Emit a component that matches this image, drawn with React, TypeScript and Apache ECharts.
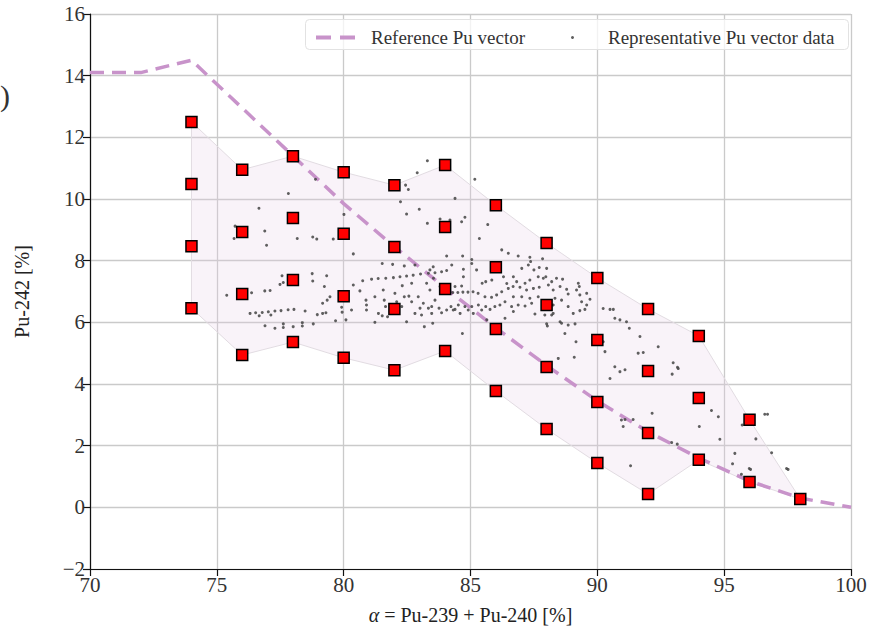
import React, { useEffect, useRef } from "react";
import * as echarts from "echarts";

// Reference Pu vector (dashed line)
const refX = [70, 72, 74, 76, 78, 80, 82, 84, 86, 88, 90, 92, 94, 96, 98, 100];
const refY = [14.1, 14.1, 14.5, 12.95, 11.4, 9.85, 8.45, 7.12, 5.82, 4.6, 3.45, 2.45, 1.6, 0.85, 0.3, 0.0];

// Red square grid points
const squareX = [
  74, 74, 74, 74,
  76, 76, 76, 76,
  78, 78, 78, 78,
  80, 80, 80, 80,
  82, 82, 82, 82,
  84, 84, 84, 84,
  86, 86, 86, 86,
  88, 88, 88, 88,
  90, 90, 90, 90,
  92, 92, 92, 92,
  94, 94, 94,
  96, 96,
  98,
];
const squareY = [
  12.5, 10.49, 8.47, 6.46,
  10.95, 8.93, 6.92, 4.94,
  11.39, 9.38, 7.37, 5.36,
  10.87, 8.87, 6.85, 4.85,
  10.45, 8.44, 6.43, 4.45,
  11.1, 9.09, 7.08, 5.07,
  9.8, 7.79, 5.78, 3.77,
  8.57, 6.56, 4.55, 2.54,
  7.44, 5.43, 3.42, 1.44,
  6.43, 4.42, 2.41, 0.43,
  5.56, 3.55, 1.54,
  2.84, 0.82,
  0.27,
];

// Shaded envelope (outer points)
const hullX = [74, 76, 78, 80, 82, 84, 86, 88, 90, 92, 94, 96, 98, 96, 94, 92, 90, 88, 86, 84, 82, 80, 78, 76, 74];
const hullY = [12.5, 10.95, 11.39, 10.87, 10.45, 11.1, 9.8, 8.57, 7.44, 6.43, 5.56, 2.84, 0.27, 0.82, 1.54, 0.43, 1.44, 2.54, 3.77, 5.07, 4.45, 4.85, 5.36, 4.94, 6.46];

// Representative Pu vector data (small dots)
const repPoints: number[][] = [
  [78.89, 10.64], [77.82, 10.18], [76.66, 9.7], [75.72, 9.12], [75.68, 8.72], [76.89, 8.96], [76.96, 8.5], [78.17, 8.72],
  [78.78, 8.77], [78.94, 8.7], [79.59, 8.7], [80.01, 9.5], [80.38, 8.22], [77.57, 7.51], [78.76, 7.58], [79.33, 7.51],
  [77.49, 7.23], [77.62, 7.29], [78.78, 7.34], [79.24, 7.16], [75.39, 6.88], [76.37, 6.96], [76.89, 7.02], [77.1, 7.03],
  [80.38, 7.21], [80.75, 7.35], [80.64, 7.02], [79.46, 6.83], [79.35, 6.72], [79.17, 6.62], [80.88, 6.72], [80.9, 6.56],
  [76.31, 6.29], [76.53, 6.31], [76.79, 6.32], [77.03, 6.34], [77.29, 6.37], [77.53, 6.38], [77.81, 6.41], [78.04, 6.42],
  [78.48, 6.37], [76.67, 6.21], [77.13, 6.24], [78.96, 6.25], [79.17, 6.29], [79.3, 6.31], [79.92, 6.49], [79.94, 6.33],
  [80.31, 6.4], [80.9, 6.4], [76.9, 5.89], [77.29, 5.81], [77.62, 5.95], [77.62, 5.83], [78.01, 5.86], [78.37, 5.99],
  [78.37, 5.88], [78.8, 5.95], [79.68, 6.05], [80.09, 6.08],
  [83.3, 11.24], [82.9, 10.85], [82.44, 10.45], [82.55, 10.31], [85.17, 10.64], [84.39, 10.02], [82.24, 9.91], [82.48, 9.51],
  [82.98, 9.67], [83.3, 9.21], [83.8, 9.35], [84.19, 9.32], [84.65, 9.26], [84.78, 9.41], [85.68, 9.17], [85.35, 8.72],
  [81.52, 7.91], [81.93, 7.88], [82.39, 7.83], [82.81, 7.86],
  [81.1, 7.4], [81.36, 7.42], [81.66, 7.43], [81.96, 7.45], [82.22, 7.48], [82.48, 7.5], [82.74, 7.53], [83.03, 7.57],
  [83.34, 7.59], [83.6, 7.61], [83.86, 7.64],
  [82.31, 7.19], [82.68, 7.27], [83.27, 7.27], [83.8, 7.16], [84.65, 7.18],
  [84.3, 6.97], [84.5, 6.97], [84.7, 6.98], [84.9, 6.98], [85.1, 6.99],
  [85.46, 7.27], [85.6, 7.32], [85.3, 6.94], [85.57, 6.83], [85.83, 6.81], [86.03, 6.89], [86.23, 6.99], [86.49, 7.1], [86.68, 7.16],
  [81.23, 6.83], [81.56, 7.05], [81.6, 6.72], [81.65, 6.51], [82.02, 6.94], [82.09, 6.67], [82.29, 6.51], [82.39, 6.83],
  [82.57, 6.85], [82.68, 6.67], [82.94, 6.83], [83.01, 6.46], [83.14, 6.62], [83.34, 6.46], [83.47, 6.51], [83.6, 6.72],
  [83.76, 6.46], [84.06, 6.4], [84.23, 6.51], [84.39, 6.42], [84.52, 6.56], [84.59, 6.29], [84.78, 6.51], [84.91, 6.4],
  [85.05, 6.51], [85.11, 6.29], [85.31, 6.56], [85.44, 6.4], [85.6, 6.51], [85.77, 6.42], [85.96, 6.51], [86.16, 6.56],
  [86.36, 6.67], [86.62, 6.51], [81.37, 6.29], [81.52, 6.21], [81.73, 6.18], [82.15, 6.29], [82.48, 6.02], [82.81, 6.29],
  [83.07, 6.24], [83.47, 6.29], [83.86, 6.31], [84.32, 6.4], [81.23, 6.0], [83.18, 5.86], [83.51, 5.97], [84.68, 5.64],
  [84.06, 8.15], [84.69, 8.15], [86.23, 8.35], [86.49, 8.24], [85.05, 8.04], [85.05, 7.91], [84.26, 7.86], [84.06, 7.68],
  [83.4, 7.7], [84.72, 7.72], [84.72, 7.48], [85.24, 7.7], [83.54, 7.43], [83.4, 7.05], [84.39, 7.16], [85.84, 7.37],
  [86.3, 7.48], [86.43, 7.26], [85.64, 6.08], [86.36, 6.13], [83.53, 7.8], [85.83, 7.68], [86.16, 7.68],
  [86.88, 8.15], [87.34, 8.11], [87.37, 7.97], [87.84, 8.06], [87.02, 7.75], [87.28, 7.86], [87.5, 7.7], [87.71, 7.78],
  [88.0, 7.75], [86.69, 7.48], [86.82, 7.32], [87.15, 7.27], [87.34, 7.37], [87.67, 7.48], [87.87, 7.43], [87.97, 7.48],
  [88.2, 7.32], [88.39, 7.43], [88.63, 7.4], [86.95, 7.14], [87.21, 7.05], [87.48, 7.1], [87.71, 7.14], [88.07, 7.21],
  [88.26, 7.05], [88.53, 7.16], [88.79, 7.07], [89.25, 7.27], [89.29, 7.16], [89.18, 7.05], [86.69, 6.83], [87.02, 6.83],
  [87.34, 6.78], [87.67, 6.83], [88.33, 6.78], [88.59, 6.72], [88.85, 6.92], [89.31, 6.89], [89.58, 6.94], [89.71, 6.75],
  [89.38, 6.67], [86.88, 6.56], [87.15, 6.53], [87.41, 6.62], [88.26, 6.56], [88.85, 6.51], [89.58, 6.56], [89.51, 6.42],
  [89.31, 6.38], [86.69, 6.35], [87.54, 6.27], [87.93, 6.24], [88.2, 6.24], [88.26, 6.29], [89.05, 6.29], [90.23, 6.45],
  [90.5, 6.42], [90.63, 6.42], [90.69, 6.13], [90.89, 6.08], [91.15, 6.02], [91.26, 5.81], [88.0, 5.95], [88.03, 5.88],
  [88.53, 6.02], [88.59, 5.97], [88.85, 5.91], [89.12, 5.95], [88.72, 5.64], [89.16, 5.37], [90.3, 5.05], [91.68, 5.54],
  [91.61, 5.0], [91.81, 5.02], [92.4, 5.21], [88.46, 4.83], [89.09, 4.87], [90.69, 4.56], [90.89, 4.4], [91.09, 4.46],
  [90.5, 4.18], [90.23, 5.37],
  [90.95, 2.83], [91.09, 2.85], [91.41, 2.85], [91.02, 2.62], [92.16, 3.05], [94.5, 3.14], [94.77, 2.94], [94.02, 2.62],
  [94.83, 2.21], [92.93, 2.1], [93.15, 2.05], [91.31, 1.35], [96.6, 3.02], [96.71, 3.02], [96.25, 2.22], [96.87, 1.77],
  [95.42, 1.75], [95.33, 1.41], [95.99, 1.26], [96.04, 1.23], [95.68, 1.07], [97.46, 1.26], [97.52, 1.23], [95.71, 2.67],
  [92.99, 4.69], [93.16, 4.54], [93.19, 4.5], [92.95, 4.32],
];

const FONT = "'Liberation Serif', 'DejaVu Serif', 'Times New Roman', serif";
const LINE_COLOR = "#c893ca";

export default function App() {
  const ref = useRef<HTMLDivElement>(null);

  useEffect(() => {
    if (!ref.current) return;
    const chart = echarts.init(ref.current, undefined, { renderer: "svg" });

    const hullData = hullX.map((x, i) => [x, hullY[i]]);
    const squareData = squareX.map((x, i) => [x, squareY[i]]);
    const refData = refX.map((x, i) => [x, refY[i]]);

    const option: any = {
      animation: false,
      backgroundColor: "#ffffff",
      textStyle: { fontFamily: FONT },
      grid: { left: 90, right: 24, top: 14, bottom: 60, containLabel: false, outerBoundsMode: "none" },
      legend: [
        {
          data: [
            {
              name: "Reference Pu vector",
              icon: "path://M0,0H15V4H0Z M24,0H39V4H24Z",
              itemStyle: { color: LINE_COLOR },
            },
          ],
          left: 311,
          top: 23,
          itemWidth: 39,
          itemHeight: 4,
          textStyle: { fontFamily: FONT, fontSize: 19, color: "#333", padding: [0, 0, 0, 11] },
          selectedMode: false,
        },
        {
          data: ["Representative Pu vector data"],
          left: 566,
          top: 23,
          itemWidth: 3,
          itemHeight: 3,
          icon: "circle",
          textStyle: { fontFamily: FONT, fontSize: 19, color: "#333", padding: [0, 0, 0, 29] },
          selectedMode: false,
        },
      ],
      graphic: [
        {
          type: "rect",
          left: 305,
          top: 19,
          z: 3,
          silent: true,
          shape: { width: 543, height: 30, r: 4 },
          style: { fill: "rgba(255,255,255,0.75)", stroke: "#e2e2e2", lineWidth: 1 },
        },
        {
          type: "text",
          left: 0,
          top: 80,
          silent: true,
          style: { text: ")", fontSize: 30, fontFamily: FONT, fill: "#333" },
        },
      ],
      xAxis: {
        type: "value",
        min: 70,
        max: 100,
        interval: 5,
        name: "{i|α} = Pu-239 + Pu-240 [%]",
        nameLocation: "middle",
        nameGap: 36,
        nameTextStyle: {
          fontFamily: FONT,
          fontSize: 20,
          color: "#222",
          rich: { i: { fontStyle: "italic", fontFamily: FONT, fontSize: 20, color: "#222" } },
        },
        axisLine: { show: true, onZero: false, lineStyle: { color: "#111", width: 1.2 } },
        axisTick: { show: true, length: 7, lineStyle: { color: "#111", width: 1.2 } },
        axisLabel: { fontFamily: FONT, fontSize: 21, color: "#333", margin: 5 },
        splitLine: { show: true, lineStyle: { color: "#cacaca", width: 1.3 } },
      },
      yAxis: {
        type: "value",
        min: -2,
        max: 16,
        interval: 2,
        name: "Pu-242 [%]",
        nameLocation: "middle",
        nameGap: 58,
        nameTextStyle: { fontFamily: FONT, fontSize: 20, color: "#222" },
        axisLine: { show: true, onZero: false, lineStyle: { color: "#111", width: 1.2 } },
        axisTick: { show: true, length: 7, lineStyle: { color: "#111", width: 1.2 } },
        axisLabel: {
          fontFamily: FONT,
          fontSize: 21,
          color: "#333",
          margin: 5,
          formatter: (v: number) => (v < 0 ? "\u2212" + Math.abs(v) : String(v)),
        },
        splitLine: { show: true, lineStyle: { color: "#cacaca", width: 1.3 } },
      },
      series: [
        {
          name: "envelope",
          type: "custom",
          silent: true,
          z: 1,
          data: hullData,
          encode: { x: 0, y: 1 },
          renderItem: (params: any, api: any) => {
            if (params.dataIndex !== 0) return null;
            const pts = hullData.map((p) => api.coord(p));
            return {
              type: "polygon",
              shape: { points: pts },
              style: { fill: "rgba(228,205,230,0.24)", stroke: "#e2dce2", lineWidth: 1 },
            };
          },
        },
        {
          name: "Reference Pu vector",
          type: "line",
          z: 2,
          data: refData,
          symbol: "none",
          lineStyle: { color: LINE_COLOR, width: 3.5, type: [14, 8] },
          itemStyle: { color: LINE_COLOR },
        },
        {
          name: "Representative Pu vector data",
          type: "scatter",
          z: 3,
          data: repPoints,
          symbol: "circle",
          symbolSize: 3,
          itemStyle: { color: "#444", opacity: 0.85 },
        },
        {
          name: "grid points",
          type: "scatter",
          z: 4,
          data: squareData,
          symbol: "rect",
          symbolSize: 11,
          itemStyle: { color: "#ff0000", borderColor: "#000", borderWidth: 1.5, opacity: 1 },
        },
      ],
    };

    chart.setOption(option);
    return () => chart.dispose();
  }, []);

  return (
    <div
      ref={ref}
      style={{ position: "fixed", left: 0, top: 0, width: 875, height: 629, background: "#fff" }}
    />
  );
}
